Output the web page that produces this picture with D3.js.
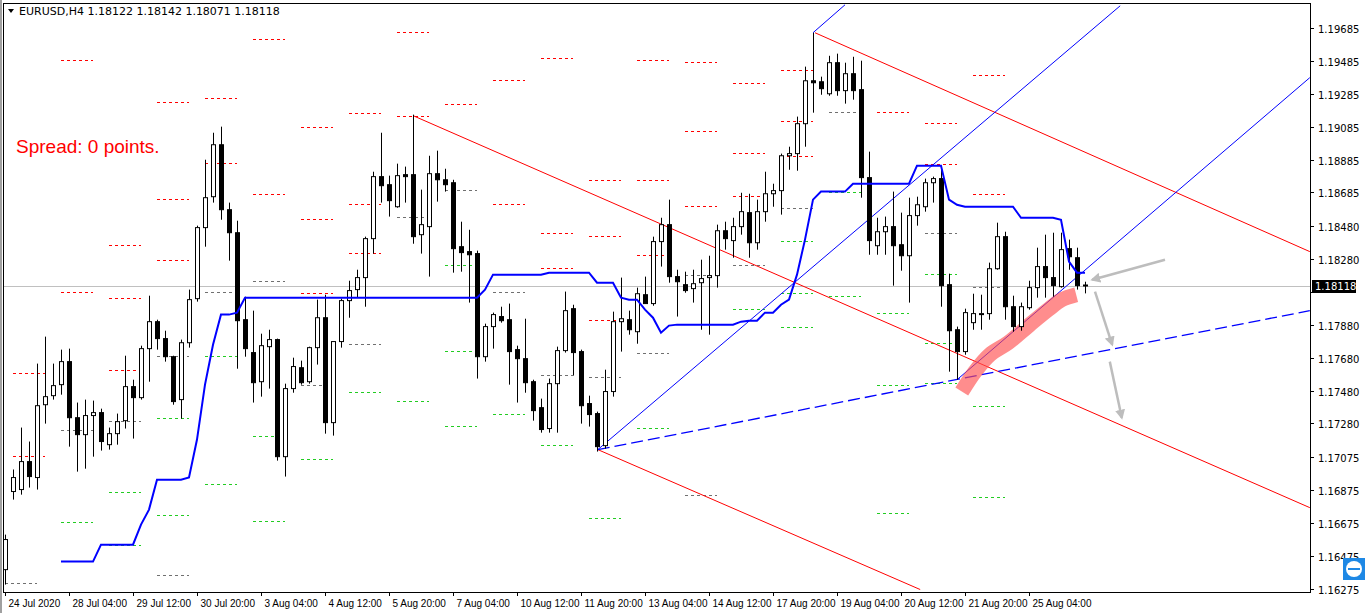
<!DOCTYPE html>
<html><head><meta charset="utf-8">
<script src="https://cdn.jsdelivr.net/npm/d3@7"></script>
<style>html,body{margin:0;padding:0;background:#fff;overflow:hidden}</style>
</head><body>
<svg id="c" width="1365" height="613"></svg>
<script>
// prices in points (price x 1e5)
const opens=[116391,116866,116878,117048,116951,117394,117449,117516,117656,117315,117212,117328,117346,117151,117218,117297,117504,117437,117735,117899,117796,117686,117425,117771,118039,118471,118659,118975,118580,118440,117911,117711,117534,117747,117790,117078,117492,117619,117534,117741,117923,117285,117778,118027,118094,118167,118404,118781,118732,118598,118793,118793,118428,118477,118799,118762,118744,118355,118325,118313,117686,117869,117930,117911,117729,117674,117534,117376,117249,117522,117723,117978,117717,117401,117340,117145,117474,117899,117911,117838,118063,118009,118386,118489,118173,118124,118100,118136,118167,118179,118452,118392,118477,118562,118379,118568,118677,118696,118908,118921,119103,119364,119358,119285,119474,119304,119407,119310,118775,118361,118446,118477,118367,118300,118544,118598,118744,118769,118124,117850,117717,117893,117948,117948,118221,118416,117990,117869,117984,118106,118234,118167,118112,118343,118288,118122];
const highs=[116604,117000,117255,117170,117644,117808,117644,117729,117735,117407,117425,117419,117370,117255,117340,117692,117546,117753,118057,117911,117844,117692,117790,118094,118483,118884,119048,119085,118623,118513,118051,117966,117826,117850,117796,117522,117680,117662,117747,118033,118063,117778,118039,118148,118215,118416,118811,119048,118787,118860,118842,119158,118702,118908,118939,118829,118762,118507,118458,118331,117887,117954,117990,118009,117753,117917,117546,117431,117553,117747,118082,118002,117729,117449,117352,117607,117960,118167,117966,118106,118173,118416,118531,118641,118215,118203,118215,118276,118300,118489,118507,118531,118683,118677,118641,118811,118738,118921,118963,119146,119450,119656,119389,119516,119529,119474,119510,119486,118933,118531,118538,118690,118562,118653,118659,118769,118781,118823,118191,117869,117978,118069,118063,118258,118501,118446,118057,118015,118148,118349,118428,118440,118440,118398,118349,118142];
const lows=[116300,116817,116847,116890,116878,117279,117425,117455,117139,116987,117005,117078,117115,117121,117151,117249,117188,117425,117534,117729,117656,117394,117309,117741,118021,118355,118623,118519,118270,117613,117686,117407,117443,117492,117054,116957,117467,117516,117522,117638,117218,117206,117741,117923,118045,117990,118313,118623,118538,118592,118623,118373,118313,118173,118629,118690,118197,118203,118015,117553,117656,117735,117893,117516,117407,117467,117297,117224,117224,117224,117711,117571,117279,117261,117109,117127,117443,117717,117820,117765,118009,117996,118234,118136,117930,118075,118015,117850,117820,118106,118337,118288,118428,118288,118337,118507,118598,118550,118823,118817,118963,119170,119279,119273,119273,119225,119249,118653,118306,118306,118306,118118,118209,118015,118483,118568,118623,117990,117595,117546,117698,117850,117850,117911,118215,117911,117838,117844,117972,118045,118045,118051,118106,118215,118094,118071];
const closes=[116574,116951,117048,116957,117388,117443,117510,117656,117315,117212,117328,117346,117170,117218,117291,117504,117437,117735,117899,117796,117686,117413,117771,118033,118471,118653,118975,118580,118440,117905,117735,117528,117753,117790,117078,117492,117626,117528,117741,117923,117285,117778,118027,118088,118167,118404,118781,118726,118635,118787,118781,118416,118489,118799,118762,118732,118343,118319,118306,117686,117869,117942,117905,117717,117674,117528,117358,117243,117522,117723,117966,117711,117388,117334,117139,117474,117899,117917,117850,118069,118009,118386,118489,118173,118142,118088,118130,118161,118179,118452,118404,118477,118568,118379,118568,118677,118696,118908,118921,119103,119364,119352,119316,119474,119304,119407,119304,118775,118392,118446,118477,118361,118300,118544,118610,118744,118769,118118,117844,117717,117954,117948,117948,118221,118416,117990,117869,117990,118106,118234,118167,118118,118337,118294,118118,118118];
// blue stepped indicator, from bar 7
const indicatorStart=7;
const indicator=[116440,116440,116440,116440,116440,116543,116543,116543,116543,116543,116665,116756,116938,116938,116938,116938,116951,117182,117516,117759,117942,117942,117954,
118045,118045,118045,118045,118045,118045,118045,118045,118045,118045,118045,118045,118045,118045,118045,118045,118045,118045,118045,118045,118045,118045,118045,118045,118045,118045,118045,118045,118045,118045,
118094,118185,118185,118185,118185,118185,118185,118185,118197,118197,118197,118197,118197,118197,118136,118136,118136,118045,118033,118033,117972,117923,117832,117875,
117881,117881,117881,117881,117881,117881,117881,117881,117899,117905,117905,117954,117954,118002,118033,118185,118398,118641,118690,118690,118690,118690,
118738,118738,118738,118738,118738,118738,118738,118738,118848,118848,118848,118848,118641,118610,118598,118598,118598,118598,118598,118598,118598,118531,118531,118531,118531,118531,118519,118264,118197,118197];
// daily levels: [start bar, price, kind]
const levels=[
[1,117589,'r'],[1,117084,'r'],[0,116312,'g0'],
[7,119492,'r'],[7,118082,'r'],[7,117242,'p'],[7,116683,'s'],
[13,118367,'r'],[13,118045,'r'],[13,117607,'r'],[13,117297,'p'],[13,116866,'s'],[13,116543,'s'],
[19,119237,'r'],[19,118647,'r'],[19,118276,'r'],[19,117692,'p'],[19,117315,'s'],[19,116726,'s'],[19,116361,'p'],
[25,119261,'r'],[25,118866,'r'],[25,118082,'p'],[25,117692,'s'],[25,116914,'s'],
[31,119620,'r'],[31,118677,'r'],[31,118148,'p'],[31,117206,'s'],[31,116689,'s'],
[37,119085,'r'],[37,118525,'r'],[37,118075,'r'],[37,117516,'p'],[37,117066,'s'],
[43,119170,'r'],[43,118617,'r'],[43,118319,'r'],[43,117765,'p'],[43,117474,'s'],
[49,119662,'r'],[49,119152,'r'],[49,118538,'p'],[49,117419,'s'],
[55,119225,'r'],[55,118702,'p'],[55,118246,'s'],[55,117723,'s'],[55,117267,'s'],
[61,119370,'r'],[61,118617,'r'],[61,118082,'p'],[61,117340,'s'],
[67,119504,'r'],[67,118440,'r'],[67,118227,'r'],[67,117577,'p'],[67,117151,'s'],
[73,118762,'r'],[73,118422,'r'],[73,117911,'r'],[73,117565,'p'],[73,116707,'s'],
[79,119492,'r'],[79,118762,'r'],[79,118306,'r'],[79,117711,'p'],[79,117255,'s'],
[85,119480,'r'],[85,119060,'r'],[85,118604,'r'],[85,118185,'p'],[85,116847,'p'],
[91,119352,'r'],[91,118927,'r'],[91,118665,'r'],[91,118246,'p'],[91,117978,'s'],
[97,119431,'r'],[97,119121,'r'],[97,118908,'r'],[97,118592,'p'],[97,118392,'s'],[97,118075,'s'],[97,117869,'s'],
[103,119176,'p'],[103,118690,'s'],[103,118057,'s'],
[109,119176,'r'],[109,117954,'s'],[109,117516,'s'],[109,116738,'s'],
[115,119109,'r'],[115,118860,'r'],[115,118440,'p'],[115,118191,'s'],[115,117771,'s'],[115,117528,'s'],
[121,119401,'r'],[121,118677,'r'],[121,118112,'p'],[121,117388,'s'],[121,116835,'s']];
const priceTicks=[119685,119485,119285,119085,118885,118685,118480,118280,118080,117880,117680,117480,117280,117075,116875,116675,116475,116275];
const timeLabels=["24 Jul 2020","28 Jul 04:00","29 Jul 12:00","30 Jul 20:00","3 Aug 04:00","4 Aug 12:00","5 Aug 20:00","7 Aug 04:00","10 Aug 12:00","11 Aug 20:00","13 Aug 04:00","14 Aug 12:00","17 Aug 20:00","19 Aug 04:00","20 Aug 12:00","21 Aug 20:00","25 Aug 04:00"];
// drawn objects [bar, price]
const redLines=[[[51,119152],[163.1,116768]],[[101.25,119656],[163.1,118325]],[[74.1,117121],[114.4,116270]]];
const blueLines=[[[74.1,117121],[139.4,119820]],[[101,119656],[105,119826]],[[119,117546],[163.1,119383]]];
const blueDashed=[[74.1,117121],[163.1,117966]];
const arrows=[[[145,118276],[135.9,118154]],[[136.25,118082],[138.4,117759]],[[138.1,117656],[139.6,117315]]];
const brush=[[119.6,117474],[121.25,117595],[123.1,117698],[125.4,117771],[128.1,117881],[130.4,117972],[132.1,118033],[133.9,118063]];
const lastPrice=118118;

const svg=d3.select('#c');
const L=4,R=1310,T=4,B=592;
const x=d3.scaleLinear().domain([0,135]).range([5,1085]);
const y=d3.scaleLinear().domain([116255,119837]).range([B,3]);
const P=v=>y(v);

svg.append('rect').attr('x',0).attr('y',0).attr('width',1365).attr('height',613).attr('fill','#fff');
svg.append('line').attr('x1',1).attr('x2',1).attr('y1',0).attr('y2',613).attr('stroke','#a0a0a0').attr('stroke-width',2);
svg.append('defs').append('clipPath').attr('id','clip').append('rect').attr('x',L).attr('y',T).attr('width',R-L).attr('height',B-T);
svg.select('defs').append('marker').attr('id','ah').attr('viewBox','0 0 10 10').attr('refX',8).attr('refY',5)
 .attr('markerWidth',4).attr('markerHeight',4).attr('orient','auto').append('path').attr('d','M0,0L10,5L0,10z').attr('fill','#bdbdbd');
const g=svg.append('g').attr('clip-path','url(#clip)');

// levels
const lc={r:'#ff0000',p:'#707070',s:'#22cc22',g0:'#707070'};
g.selectAll('.lv').data(levels).join('line')
 .attr('x1',d=>x(d[0])).attr('x2',d=>x(d[0]+4)).attr('y1',d=>Math.round(P(d[1]))+0.5).attr('y2',d=>Math.round(P(d[1]))+0.5)
 .attr('stroke',d=>lc[d[2]]).attr('stroke-dasharray','3,3');

// last price line
g.append('line').attr('x1',L).attr('x2',R).attr('y1',Math.round(P(lastPrice))+0.5).attr('y2',Math.round(P(lastPrice))+0.5).attr('stroke','#c0c0c0');

// trend lines
const ln=d3.line().x(d=>x(d[0])).y(d=>P(d[1]));
redLines.forEach(l=>g.append('path').attr('d',ln(l)).attr('stroke','#ff0000').attr('fill','none'));
blueLines.forEach(l=>g.append('path').attr('d',ln(l)).attr('stroke','#0000ff').attr('fill','none'));
g.append('path').attr('d',ln(blueDashed)).attr('stroke','#0000ff').attr('stroke-width',1.3).attr('stroke-dasharray','12,5').attr('fill','none');

// brush
g.append('path').attr('d',d3.line().x(d=>x(d[0])).y(d=>P(d[1])).curve(d3.curveCatmullRom)(brush))
 .attr('stroke','#ff5050').attr('stroke-opacity',0.65).attr('stroke-width',15).attr('stroke-linecap','butt').attr('fill','none');

// candles
const idx=d3.range(opens.length);
g.selectAll('.wk').data(idx).join('line')
 .attr('x1',i=>x(i)+0.5).attr('x2',i=>x(i)+0.5).attr('y1',i=>P(highs[i])).attr('y2',i=>P(lows[i])).attr('stroke','#000');
g.selectAll('.bd').data(idx).join('rect')
 .attr('x',i=>x(i)-2+0.5).attr('width',4)
 .attr('y',i=>Math.min(P(opens[i]),P(closes[i]))).attr('height',i=>Math.max(1,Math.abs(P(opens[i])-P(closes[i]))))
 .attr('fill',i=>closes[i]<opens[i]?'#000':'#fff').attr('stroke','#000');

// indicator
g.append('path').attr('d',d3.line().x((d,k)=>x(k+indicatorStart)).y(d=>P(d))(indicator))
 .attr('stroke','#0000ff').attr('stroke-width',2).attr('fill','none');

// arrows
arrows.forEach(a=>g.append('path').attr('d',ln(a)).attr('stroke','#bdbdbd').attr('stroke-width',2.5).attr('fill','none').attr('marker-end','url(#ah)'));

// frame
svg.append('rect').attr('x',L-0.5).attr('y',T-0.5).attr('width',R-L+1).attr('height',B-T+1).attr('fill','none').attr('stroke','#000');

// price axis
const ax=svg.append('g').attr('font-family','DejaVu Sans').attr('font-size','10px');
const ly=Math.round(P(lastPrice));
priceTicks.forEach(v=>{const yy=Math.round(P(v))+0.5;
 ax.append('line').attr('x1',R).attr('x2',R+4).attr('y1',yy).attr('y2',yy).attr('stroke','#000');
 if(Math.abs(yy-ly)>9) ax.append('text').attr('x',R+8).attr('y',yy+4).text((v/1e5).toFixed(5));});
ax.append('rect').attr('x',R+2).attr('y',ly-6).attr('width',44).attr('height',13).attr('fill','#000');
ax.append('text').attr('x',R+5).attr('y',ly+4).attr('fill','#fff').text((lastPrice/1e5).toFixed(5));

// time axis
timeLabels.forEach((t,k)=>{const xx=Math.round(x(k*8))+0.5;
 ax.append('line').attr('x1',xx).attr('x2',xx).attr('y1',B).attr('y2',B+4).attr('stroke','#000');
 ax.append('text').attr('x',xx+3).attr('y',B+15).attr('font-family','Liberation Sans').attr('font-size','10px').text(t);});

// header
svg.append('path').attr('d','M8,9L14,9L11,13z').attr('fill','#000');
svg.append('text').attr('x',19).attr('y',15).attr('font-family','DejaVu Sans').attr('font-size','11px')
 .text('EURUSD,H4  '+[opens[135],highs[135],lows[135],closes[135]].map(v=>(v/1e5).toFixed(5)).join(' '));
svg.append('text').attr('x',16).attr('y',153).attr('font-family','Liberation Sans').attr('font-size','19px').attr('fill','#ff0000').text('Spread: 0 points.');

// small icon
svg.append('rect').attr('x',1343).attr('y',558).attr('width',22).attr('height',22).attr('fill','#1e88e5');
svg.append('circle').attr('cx',1354).attr('cy',569).attr('r',8).attr('fill','#fff');
svg.append('path').attr('d','M1348,569L1360,569').attr('stroke','#1e88e5').attr('stroke-width',2);
</script></body></html>
